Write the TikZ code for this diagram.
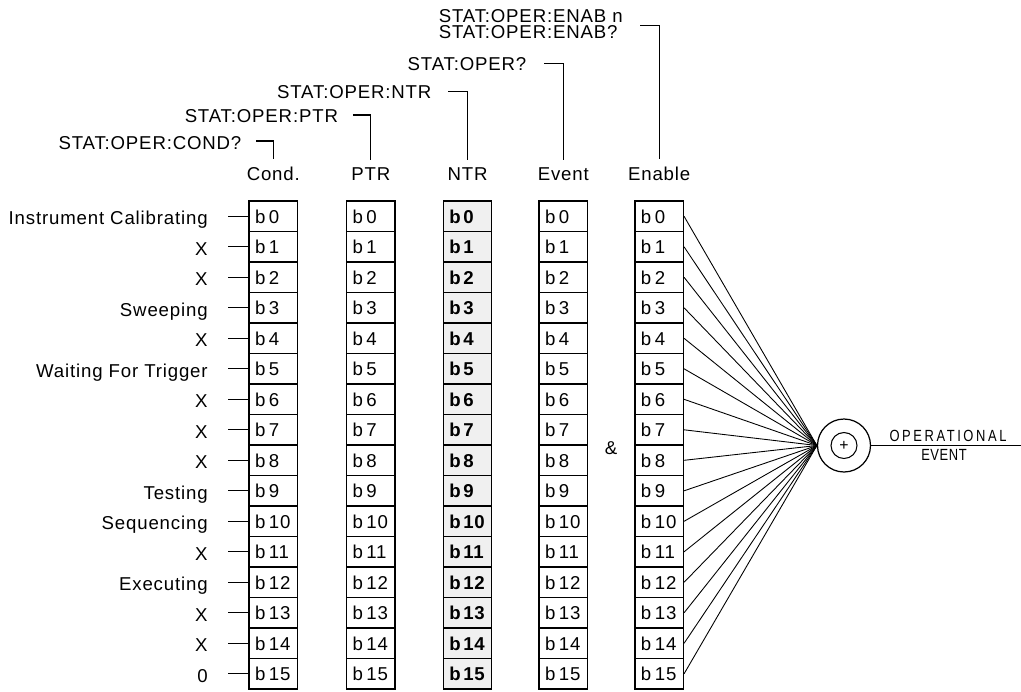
\documentclass[tikz,border=0pt]{standalone}
\usepackage{fontspec}
\setmainfont{Liberation Sans}[LetterSpace=4.5]
\usepackage{graphicx}
\usepackage{tikz}
\usetikzlibrary{calc}

\tikzset{
  bitbox/.style={draw,line width=0.7pt,minimum height=0.61cm,inner xsep=0.12cm,
    text width=0.73cm,align=left,text height=0.28cm,text depth=0pt},
  ntrbox/.style={bitbox,fill=gray!12,font=\fontsize{10.6}{12.7}\selectfont\bfseries},
  cmdlabel/.style={inner sep=0pt,anchor=base east},
  hdrlabel/.style={inner sep=0pt,anchor=base},
  bracket/.style={line width=0.7pt},
}

\begin{document}
\begin{tikzpicture}[x=0.02cm,y=-0.02cm,font=\fontsize{10.6}{12.7}\selectfont]
  \useasboundingbox (0,0) rectangle (1021,691);
  \node[hdrlabel] (hcond) at (273.3,180.7) {Cond.};
  \node[hdrlabel] (hptr) at (370.8,180.7) {PTR};
  \node[hdrlabel] (hntr) at (467.5,180.7) {NTR};
  \node[hdrlabel] (hevent) at (563.3,180.7) {Event};
  \node[hdrlabel] (henab) at (659.2,180.7) {Enable};
  \node[cmdlabel] (scond) at (241.7,149.3) {STAT:OPER:COND?};
  \node[cmdlabel] (sptr) at (338.3,122.3) {STAT:OPER:PTR};
  \node[cmdlabel] (sntr) at (431.7,98.3) {STAT:OPER:NTR};
  \node[cmdlabel] (sevent) at (526.7,70.0) {STAT:OPER?};
  \node[inner sep=0pt,anchor=north east,align=left,font=\fontsize{10.6}{9.1}\selectfont] (senab) at (623,9.4)
    {STAT:OPER:ENAB n\\STAT:OPER:ENAB?};
  \draw[bracket] ([xshift=0.29cm,yshift=0.166cm]scond.base east) -| ([yshift=4.5pt]hcond.north);
  \draw[bracket] ([xshift=0.29cm,yshift=0.146cm]sptr.base east) -| ([yshift=4.5pt]hptr.north);
  \draw[bracket] ([xshift=0.33cm,yshift=0.132cm]sntr.base east) -| ([yshift=4.5pt]hntr.north);
  \draw[bracket] ([xshift=0.35cm,yshift=0.134cm]sevent.base east) -| ([yshift=4.5pt]hevent.north);
  \draw[bracket] ([xshift=0.34cm,yshift=-0.03cm]senab.east) -| ([yshift=4.5pt]henab.north);
  \foreach \i in {0,...,15}{
    \node[bitbox] (cond\i) at (273.3,216.3+30.5*\i) {b\kern2pt\i};
    \node[bitbox] (ptr\i) at (370.8,216.3+30.5*\i) {b\kern2pt\i};
    \node[ntrbox] (ntr\i) at (467.5,216.3+30.5*\i) {b\kern1.5pt\i};
    \node[bitbox] (event\i) at (563.3,216.3+30.5*\i) {b\kern2pt\i};
    \node[bitbox] (enab\i) at (659.2,216.3+30.5*\i) {b\kern2pt\i};
  }
  \foreach \i/\t in {0/Instrument Calibrating,1/X,2/X,3/Sweeping,4/X,5/Waiting For Trigger,
      6/X,7/X,8/X,9/Testing,10/Sequencing,11/X,12/Executing,13/X,14/X,15/0}{
    \node[cmdlabel] (lab\i) at (208,224.8+30.5*\i) {\t};
    \draw[bracket] (cond\i.west) -- ([xshift=0.4cm]cond\i.west -| lab\i.east);
  }
  \node[anchor=base] (amp) at (611,454) {\&};
  \node[circle,draw,line width=0.7pt,minimum size=1.06cm,inner sep=0pt] (sum) at (844,445.5) {};
  \node[circle,draw,line width=0.6pt,minimum size=0.52cm,inner sep=0pt,font=\small] (plus) at (sum) {+};
  \foreach \i in {0,...,15}
    \draw[line width=0.5pt] (enab\i.east) -- (sum.west);
  \coordinate (outend) at (1021,445.5);
  \draw[line width=0.7pt] (sum.east) -- (outend);
  \node[inner sep=0pt,anchor=base,font=\fontsize{9.2}{10}\selectfont] (oplabel) at (948,441.7)
    {\scalebox{0.8}[1]{\addfontfeature{LetterSpace=20}OPERATIONAL}};
  \node[inner sep=0pt,anchor=base,font=\fontsize{9.2}{10}\selectfont] (evlabel) at (944,460.7)
    {\scalebox{0.8}[1]{EVENT}};
\end{tikzpicture}
\end{document}
